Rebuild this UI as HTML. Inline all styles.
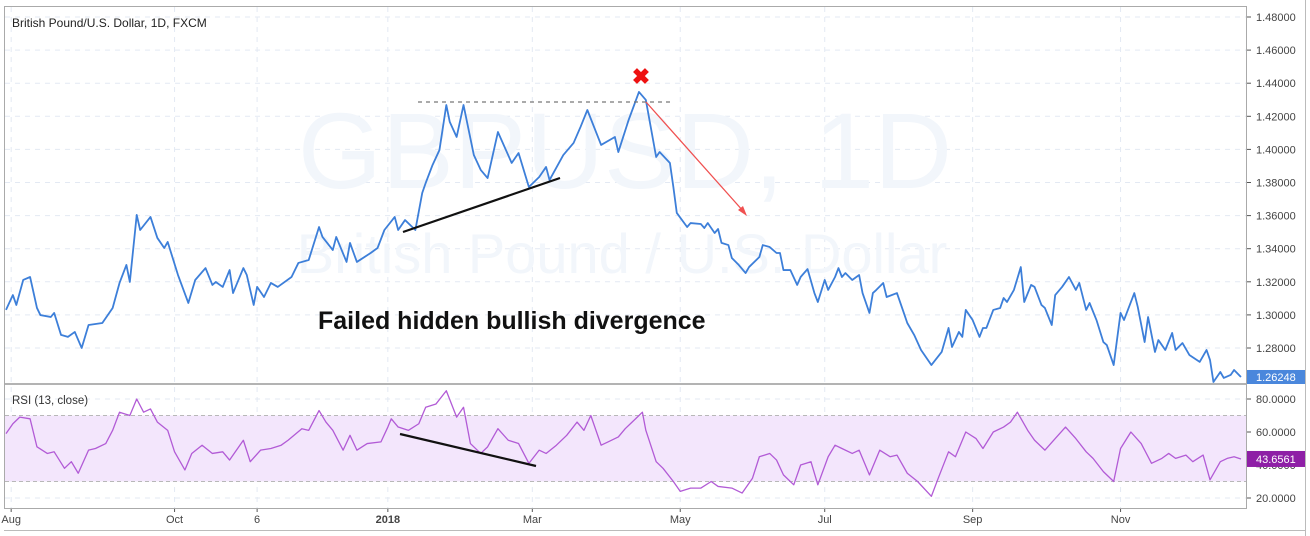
<!DOCTYPE html>
<html><head><meta charset="utf-8"><style>
html,body{margin:0;padding:0;background:#fff;width:1310px;height:536px;overflow:hidden}
svg{display:block;font-family:"Liberation Sans",sans-serif}
</style></head><body>
<svg id="chart" width="1310" height="536" viewBox="0 0 1310 536">
<g id="grid"></g>
<g fill="#f2f6fb">
<text x="625" y="188" font-size="108" text-anchor="middle">GBPUSD, 1D</text>
<text x="622" y="273" font-size="56" text-anchor="middle">British Pound / U.S. Dollar</text>
</g>
<rect id="band" x="5" width="1242" fill="#f3e6fc"></rect>
<g id="bandlines"></g>
<g id="series"></g>
<g id="axes"></g>
<line x1="5" y1="384" x2="1247" y2="384" stroke="#9a9a9a" stroke-width="1.5"/>
<rect x="4.5" y="6.5" width="1242" height="502" fill="none" stroke="#aaa"/>
<line x1="1305.5" y1="0" x2="1305.5" y2="536" stroke="#bbb"/>
<line x1="4" y1="530.5" x2="1306" y2="530.5" stroke="#bbb"/>
<text x="12" y="27" font-size="12" fill="#222">British Pound/U.S. Dollar, 1D, FXCM</text>
<text x="12" y="404" font-size="11.5" fill="#333">RSI (13, close)</text>
<g>
<line x1="418" y1="102" x2="670" y2="102" stroke="#777" stroke-width="1.3" stroke-dasharray="4,4"/>
<line x1="403" y1="232" x2="560" y2="178" stroke="#111" stroke-width="2.2"/>
<line x1="400" y1="434" x2="536" y2="466" stroke="#111" stroke-width="2.2"/>
<line x1="646" y1="102" x2="744" y2="212" stroke="#f05050" stroke-width="1.3"/>
<polygon points="747,216 738,210 743,206" fill="#f05050"/>
<text x="641" y="84" font-size="22" font-weight="bold" fill="#ee1111" text-anchor="middle">✖</text>
<text x="318" y="329" font-size="25" font-weight="bold" fill="#111">Failed hidden bullish divergence</text>
</g>
</svg>
<script>
const priceDays=[0,2,3,5,7,9,10,13,14,16,18,20,22,24,28,31,33,35,36,38,39,42,44,46,47,50,53,55,58,60,61,63,65,66,69,70,72,73,75,77,79,83,85,88,91,92,95,96,99,100,102,106,108,110,113,114,116,119,121,122,124,126,128,129,131,133,136,138,140,143,147,149,152,155,157,158,162,165,167,169,173,177,178,181,184,186,189,190,193,194,195,198,199,202,203,204,206,207,208,210,211,213,215,216,219,220,222,224,225,226,228,230,231,233,235,236,238,239,241,242,243,244,246,248,249,251,252,253,255,256,259,261,262,264,266,269,272,274,275,277,278,279,281,283,284,285,287,289,290,291,293,295,296,298,299,301,302,304,305,307,309,311,312,314,315,317,319,320,322,324,325,328,329,331,332,334,335,337,339,340,342,344,347,349,350,351,352,353,354,356,357,359];
const priceValues=[1.3030,1.3120,1.3060,1.3211,1.3229,1.3042,1.2999,1.2987,1.3012,1.2879,1.2867,1.2897,1.2800,1.2939,1.2951,1.3042,1.3193,1.3302,1.3199,1.3604,1.3513,1.3592,1.3465,1.3404,1.3441,1.3241,1.3072,1.3211,1.3283,1.3181,1.3199,1.3169,1.3271,1.3132,1.3283,1.3241,1.3060,1.3169,1.3108,1.3193,1.3169,1.3229,1.3314,1.3332,1.3531,1.3471,1.3392,1.3471,1.3320,1.3435,1.3320,1.3374,1.3404,1.3513,1.3592,1.3513,1.3573,1.3513,1.3737,1.3797,1.3906,1.3996,1.4268,1.4166,1.4075,1.4268,1.3966,1.3876,1.3827,1.4105,1.3918,1.3978,1.3773,1.3833,1.3894,1.3815,1.3966,1.4039,1.4135,1.4238,1.4027,1.4075,1.3984,1.4178,1.4347,1.4299,1.3954,1.3984,1.3918,1.3773,1.3616,1.3531,1.3555,1.3549,1.3525,1.3555,1.3495,1.3519,1.3435,1.3422,1.3344,1.3302,1.3253,1.3289,1.3350,1.3422,1.3410,1.3374,1.3374,1.3271,1.3271,1.3181,1.3229,1.3277,1.3132,1.3078,1.3211,1.3151,1.3229,1.3283,1.3229,1.3253,1.3211,1.3241,1.3132,1.3012,1.3132,1.3151,1.3193,1.3108,1.3132,1.3012,1.2951,1.2879,1.2788,1.2697,1.2776,1.2921,1.2806,1.2897,1.2867,1.3030,1.2969,1.2867,1.2921,1.2921,1.3030,1.3042,1.3102,1.3078,1.3151,1.3289,1.3078,1.3181,1.3169,1.3060,1.3042,1.2939,1.3120,1.3169,1.3229,1.3151,1.3193,1.3030,1.3072,1.2969,1.2836,1.2818,1.2697,1.3012,1.2969,1.3132,1.3048,1.2836,1.2987,1.2776,1.2848,1.2788,1.2891,1.2788,1.2830,1.2758,1.2716,1.2788,1.2728,1.2595,1.2625,1.2655,1.2619,1.2637,1.2667,1.2625];
const rsiDays=[0,2,4,7,9,12,14,17,19,21,24,26,29,31,33,36,38,40,42,44,47,49,52,54,57,60,63,65,69,71,74,77,80,82,86,88,91,93,95,98,100,102,105,109,111,112,114,117,120,122,125,128,131,133,135,138,140,143,146,149,152,155,157,160,163,166,168,170,173,175,178,180,182,185,186,189,191,194,196,199,202,205,207,211,214,217,219,222,224,226,229,231,234,236,239,241,243,246,248,251,254,257,259,262,265,269,271,274,276,279,282,284,287,290,292,294,297,299,302,305,308,311,314,316,319,322,324,327,330,333,336,338,340,343,345,348,350,353,355,357,359];
const rsiValues=[59,65,69,68,51,47,48,38,42,35,49,50,53,61,72,70,80,72,74,66,61,48,37,47,52,47,48,43,55,42,49,50,52,55,62,61,73,66,61,49,58,49,53,54,63,68,63,61,65,75,77,85,69,75,53,47,51,62,55,53,41,49,47,52,58,66,61,70,52,54,57,62,66,72,61,42,38,30,24,26,26,30,27,26,23,32,45,47,43,34,28,40,42,28,45,52,50,47,49,34,49,45,46,35,30,21,32,48,45,60,56,50,60,63,66,72,61,55,49,56,63,56,48,44,36,30,50,60,53,41,44,47,44,46,42,46,31,42,44,45,43.66];
const priceTicks=[1.48,1.46,1.44,1.42,1.40,1.38,1.36,1.34,1.32,1.30,1.28];
const rsiTicks=[80,60,40,20];
const rsiBands=[70,30];
const timeLabels=["Aug","Oct","6","2018","Mar","May","Jul","Sep","Nov"];
const timeLabelDays=[1.5,49,73,111,153,196,238,281,324];
const lastPrice=1.26248, lastRsi=43.6561;

const NS="http://www.w3.org/2000/svg";
const xS=d=>6+d*3.44;
const yP=v=>17+(1.48-v)/0.02*33.1;
const yR=v=>399+(80-v)/20*33;
function mk(tag,attrs,parent){const e=document.createElementNS(NS,tag);for(const k in attrs)e.setAttribute(k,attrs[k]);parent.appendChild(e);return e;}
const grid=document.getElementById('grid'),axes=document.getElementById('axes'),series=document.getElementById('series');
const defs=mk('defs',{},document.getElementById('chart'));
const cp1=mk('clipPath',{id:'cpP'},defs);mk('rect',{x:5,y:7,width:1242,height:377},cp1);
const cp2=mk('clipPath',{id:'cpR'},defs);mk('rect',{x:5,y:384,width:1242,height:124},cp2);
priceTicks.forEach(v=>{const y=yP(v);
 const g=mk('line',{x1:5,x2:1247,y1:y,y2:y,stroke:'#e3e9f3','stroke-dasharray':'5,5'},grid);
 
 
 mk('line',{x1:1247,x2:1251,y1:y,y2:y,stroke:'#555'},axes);
 const t=mk('text',{x:1256,y:y+4,'font-size':11,fill:'#444'},axes);t.textContent=v.toFixed(5);
 
 
});
rsiTicks.forEach(v=>{const y=yR(v);
 const g=mk('line',{x1:5,x2:1247,y1:y,y2:y,stroke:'#e3e9f3','stroke-dasharray':'5,5'},grid);
 
 
 mk('line',{x1:1247,x2:1251,y1:y,y2:y,stroke:'#555'},axes);
 const t=mk('text',{x:1256,y:y+4,'font-size':11,fill:'#444'},axes);t.textContent=v.toFixed(4);
 
 
});
timeLabels.forEach((s,i)=>{const x=xS(timeLabelDays[i]);
 const g=mk('line',{x1:x,x2:x,y1:7,y2:508,stroke:'#e3e9f3','stroke-dasharray':'5,5'},grid);
 
 
 mk('line',{x1:x,x2:x,y1:508,y2:512,stroke:'#555'},axes);
 const t=mk('text',{x:x,y:523,'font-size':11,fill:'#444','text-anchor':'middle','font-weight':s==='2018'?'bold':'normal'},axes);t.textContent=s;
 
 
});
const band=document.getElementById('band');band.setAttribute('y',yR(rsiBands[0]));band.setAttribute('height',yR(rsiBands[1])-yR(rsiBands[0]));
rsiBands.forEach(v=>{const l=mk('line',{x1:5,x2:1247,y1:yR(v),y2:yR(v),stroke:'#b8b8b8','stroke-dasharray':'4,3'},document.getElementById('bandlines'));
 
 
});
const pp=mk('polyline',{points:priceDays.map((d,i)=>xS(d)+','+yP(priceValues[i])).join(' '),fill:'none',stroke:'#3d7fd9','stroke-width':1.8,'stroke-linejoin':'round','clip-path':'url(#cpP)'},series);


const rp=mk('polyline',{points:rsiDays.map((d,i)=>xS(d)+','+yR(rsiValues[i])).join(' '),fill:'none',stroke:'#b25bd6','stroke-width':1.3,'stroke-linejoin':'round','clip-path':'url(#cpR)'},series);


const py=yP(lastPrice);
const pr=mk('rect',{x:1247,y:py-7,width:58,height:14,fill:'#4a87dc'},axes);


const pt=mk('text',{x:1256,y:py+4,'font-size':11,fill:'#fff'},axes);pt.textContent=lastPrice.toFixed(5);


const ry=yR(lastRsi);
const rr=mk('rect',{x:1247,y:ry-8,width:58,height:16,fill:'#8e1fa6'},axes);


const rt=mk('text',{x:1256,y:ry+4,'font-size':11,fill:'#fff'},axes);rt.textContent=lastRsi.toFixed(4);


</script>
</body></html>
